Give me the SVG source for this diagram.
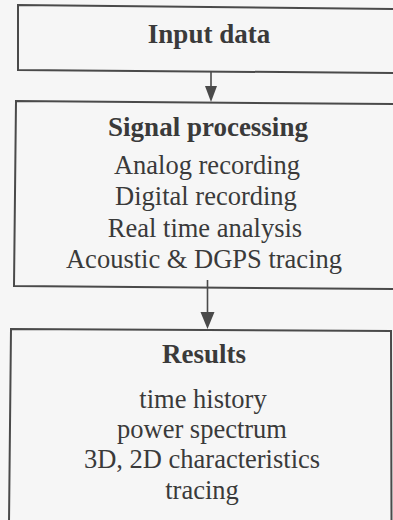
<svg xmlns="http://www.w3.org/2000/svg" width="393" height="520" viewBox="0 0 393 520">
  <defs>
    <style>
      .frame { fill: none; stroke: #4a4a4a; stroke-width: 2; }
      .link { fill: none; stroke: #4a4a4a; stroke-width: 1.6; }
      .head { fill: #4a4a4a; }
      .title { font-family: "Liberation Serif", "Times New Roman", serif; font-size: 27px; font-weight: bold; fill: #3a3a3a; text-anchor: middle; }
      .item { font-family: "Liberation Serif", "Times New Roman", serif; font-size: 26.5px; fill: #3a3a3a; text-anchor: middle; }
    </style>
  </defs>

  <rect x="0" y="0" width="393" height="520" fill="#f6f6f6"/>

  <!-- Input block -->
  <g id="input-data">
    <path class="frame" d="M396,9 L18,5 L18,70 L396,73"/>
    <text class="title" x="209" y="43">Input data</text>
  </g>

  <!-- Processing block -->
  <g id="signal-processing">
    <path class="frame" d="M396,104 L16,101 L14,286 L396,289"/>
    <text class="title" x="208" y="136">Signal processing</text>
    <text class="item" x="207" y="174">Analog recording</text>
    <text class="item" x="206" y="205">Digital recording</text>
    <text class="item" x="205" y="237">Real time analysis</text>
    <text class="item" x="204" y="268">Acoustic &amp; DGPS tracing</text>
  </g>

  <!-- Output block -->
  <g id="results">
    <path class="frame" d="M9,522 L11,329 L391,331 L391.5,522"/>
    <text class="title" x="204" y="363">Results</text>
    <text class="item" x="203" y="408">time history</text>
    <text class="item" x="202" y="438">power spectrum</text>
    <text class="item" x="202" y="468">3D, 2D characteristics</text>
    <text class="item" x="202" y="499">tracing</text>
  </g>

  <!-- Flow arrows -->
  <g id="connectors">
    <line class="link" x1="211" y1="71" x2="211" y2="88"/>
    <polygon class="head" points="205,86 217,86 211,102"/>
    <line class="link" x1="207.5" y1="280" x2="207.5" y2="314"/>
    <polygon class="head" points="200.5,312 214.5,312 207.5,329"/>
  </g>
</svg>
